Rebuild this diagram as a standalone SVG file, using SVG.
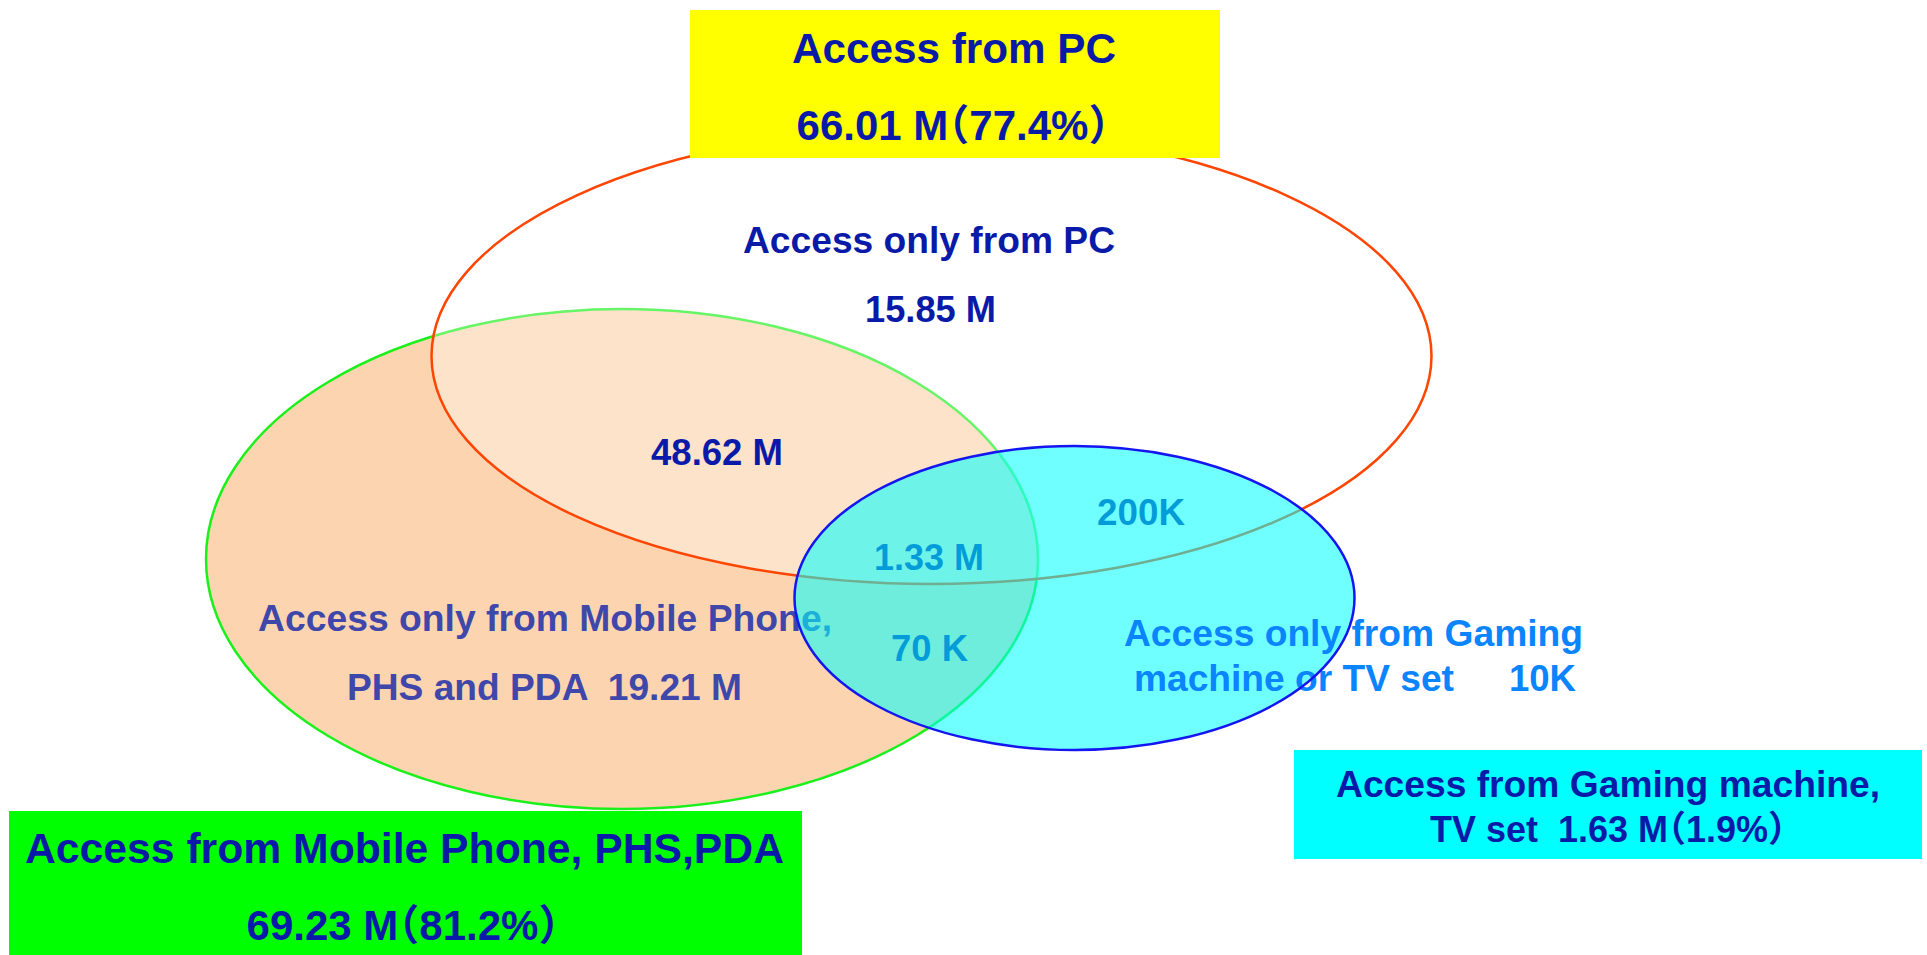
<svg xmlns="http://www.w3.org/2000/svg" width="1927" height="955" viewBox="0 0 1927 955">
<style>
text{font-family:"Liberation Sans",Arial,"Noto Sans CJK JP",sans-serif;font-weight:bold;font-feature-settings:"halt"}
.dk{fill:#0A1AA8}
.mob{fill:#3F48AA}
.gm{fill:#0A84FF}
.t42{font-size:42px}
.t37{font-size:37px}
.t36{font-size:36px}
.c{text-anchor:middle}
</style>
<rect width="1927" height="955" fill="#fff"/>
<g id="set-mobile">
<ellipse cx="622" cy="559" rx="416" ry="250" fill="#FCD5B0" stroke="#1AF01A" stroke-width="2.5"/>
</g>
<g id="set-pc">
<ellipse cx="931.5" cy="356" rx="500" ry="228" fill="#fff" fill-opacity="0.33" stroke="#FF4500" stroke-width="2.5"/>
</g>
<g id="region-labels">
<text class="dk t37" x="743" y="253" textLength="372" lengthAdjust="spacingAndGlyphs">Access only from PC</text>
<text class="dk t37" x="865" y="322" textLength="131" lengthAdjust="spacingAndGlyphs">15.85 M</text>
<text class="dk t36" x="651" y="465" textLength="132" lengthAdjust="spacingAndGlyphs">48.62 M</text>
<text class="mob t37" x="258" y="631" textLength="574" lengthAdjust="spacingAndGlyphs">Access only from Mobile Phone,</text>
<text class="mob t37" x="347" y="700" textLength="395" lengthAdjust="spacingAndGlyphs" xml:space="preserve">PHS and PDA  19.21 M</text>
<text class="dk t36" x="874" y="570" textLength="110" lengthAdjust="spacingAndGlyphs">1.33 M</text>
<text class="dk t36" x="1097" y="525" textLength="88" lengthAdjust="spacingAndGlyphs">200K</text>
<text class="dk t36" x="891" y="661" textLength="77" lengthAdjust="spacingAndGlyphs">70 K</text>
</g>
<g id="set-gaming">
<ellipse cx="1074.5" cy="598" rx="280" ry="152" fill="#00FFFF" fill-opacity="0.565"/>
<text class="gm t37" x="1124" y="646" textLength="459" lengthAdjust="spacingAndGlyphs">Access only from Gaming</text>
<text class="gm t37" x="1134" y="691" textLength="320" lengthAdjust="spacingAndGlyphs">machine or TV set</text>
<text class="gm t37" x="1509" y="691" textLength="67" lengthAdjust="spacingAndGlyphs">10K</text>
<ellipse cx="1074.5" cy="598" rx="280" ry="152" fill="none" stroke="#1515F0" stroke-width="2.5"/>
</g>
<g id="connectors"></g>
<g id="label-pc">
<rect x="690" y="10" width="530" height="148" fill="#FFFF00"/>
<text class="dk t42" x="792" y="63" textLength="324" lengthAdjust="spacingAndGlyphs">Access from PC</text>
<text class="dk t42 c" x="953" y="140">66.01 M（77.4%）</text>
</g>
<g id="label-mobile">
<rect x="9" y="811" width="793" height="144" fill="#00FF00"/>
<text class="dk t42" x="25" y="863" textLength="759" lengthAdjust="spacingAndGlyphs">Access from Mobile Phone, PHS,PDA</text>
<text class="dk t42 c" x="403" y="940">69.23 M（81.2%）</text>
</g>
<g id="label-gaming">
<rect x="1294" y="750" width="628" height="109" fill="#00FFFF"/>
<text class="dk t36" x="1336" y="797" textLength="544" lengthAdjust="spacingAndGlyphs">Access from Gaming machine,</text>
<text class="dk t36 c" x="1608" y="842" xml:space="preserve">TV set  1.63 M（1.9%）</text>
</g>
</svg>
